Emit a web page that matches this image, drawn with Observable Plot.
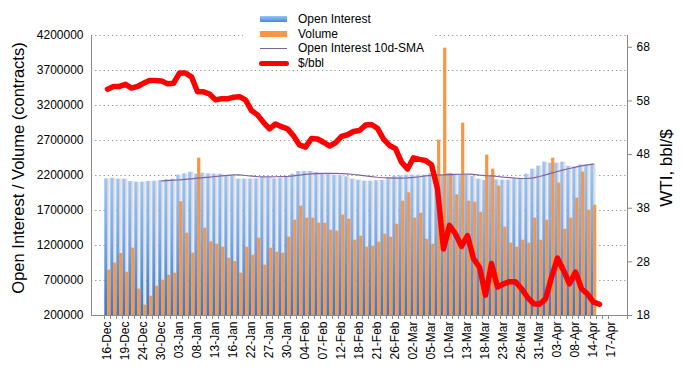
<!DOCTYPE html>
<html>
<head>
<meta charset="utf-8">
<script src="https://cdn.jsdelivr.net/npm/d3@7"></script>
<script src="https://cdn.jsdelivr.net/npm/@observablehq/plot@0.6"></script>
<style>
  html, body { margin: 0; padding: 0; background: #fff; }
  #wrap { position: relative; width: 683px; height: 367px; font-family: "Liberation Sans", Arial, sans-serif; }
  #legend { position: absolute; left: 243px; top: 4px; width: 192px; height: 62px; background: #fff; font-size: 12px; color: #000; }
  .li { position: absolute; left: 17px; height: 14px; width: 180px; }
  .li span { position: absolute; left: 38px; top: 0; line-height: 14px; white-space: nowrap; }
  .sw { position: absolute; left: 0; }
</style>
</head>
<body>
<div id="wrap">
  <div id="chart"></div>
  <div id="legend">
    <div class="li" style="top:8px"><div class="sw" style="top:4px;width:27px;height:6px;background:linear-gradient(#9cc4f6,#4589da);"></div><span>Open Interest</span></div>
    <div class="li" style="top:23px"><div class="sw" style="top:4px;width:27px;height:6px;background:#f79646;"></div><span>Volume</span></div>
    <div class="li" style="top:37px"><div class="sw" style="top:6.5px;width:27px;height:1.2px;background:#8064a2;"></div><span>Open Interest 10d-SMA</span></div>
    <div class="li" style="top:52px"><div class="sw" style="top:4.5px;left:-1px;width:30px;height:5px;border-radius:3px;background:#ff0000;"></div><span>$/bbl</span></div>
  </div>
</div>
<script>
const dates = ["16-Dec","17-Dec","18-Dec","19-Dec","20-Dec","23-Dec","24-Dec","26-Dec","27-Dec","30-Dec","31-Dec",
"02-Jan","03-Jan","06-Jan","07-Jan","08-Jan","09-Jan","10-Jan","13-Jan","14-Jan","15-Jan","16-Jan","17-Jan","21-Jan","22-Jan","23-Jan","24-Jan","27-Jan","28-Jan","29-Jan","30-Jan","31-Jan",
"03-Feb","04-Feb","05-Feb","06-Feb","07-Feb","10-Feb","11-Feb","12-Feb","13-Feb","14-Feb","18-Feb","19-Feb","20-Feb","21-Feb","24-Feb","25-Feb","26-Feb","27-Feb","28-Feb",
"02-Mar","03-Mar","04-Mar","05-Mar","06-Mar","09-Mar","10-Mar","11-Mar","12-Mar","13-Mar","16-Mar","17-Mar","18-Mar","19-Mar","20-Mar","23-Mar","24-Mar","25-Mar","26-Mar","27-Mar","30-Mar","31-Mar",
"01-Apr","02-Apr","03-Apr","06-Apr","07-Apr","08-Apr","09-Apr","13-Apr","14-Apr","15-Apr","16-Apr","17-Apr"];

const openInterest = [2152000,2162000,2148000,2148000,2114000,2105000,2105000,2114000,2119000,2129000,
2143000,2148000,2205000,2224000,2248000,2219000,2233000,2224000,2219000,2219000,
2195000,2195000,2148000,2148000,2148000,2152000,2167000,2162000,2152000,2157000,
2186000,2219000,2257000,2257000,2257000,2243000,2224000,2219000,2205000,2195000,
2181000,2148000,2133000,2120000,2120000,2125000,2129000,2162000,2186000,2195000,
2205000,2205000,2205000,2205000,2229000,2205000,2205000,2229000,2205000,2205000,
2205000,2186000,2148000,2129000,2186000,2138000,2133000,2133000,2152000,2152000,
2219000,2290000,2333000,2391000,2376000,2376000,2391000,2333000,2319000,2352000,
2348000,2362000];

const volume = [848000,948000,1086000,819000,1162000,576000,348000,476000,619000,705000,
776000,805000,1824000,1376000,1090000,2448000,1448000,1252000,1219000,1176000,
1019000,971000,805000,1176000,1062000,1305000,919000,1162000,1105000,1090000,
1319000,1562000,1762000,1591000,1591000,1519000,1519000,1419000,1405000,1633000,
1576000,1276000,1333000,1176000,1190000,1248000,1362000,1319000,1505000,1833000,
1952000,1591000,1662000,1290000,1219000,2705000,4019000,2229000,1924000,2948000,
1833000,1819000,1676000,2491000,2291000,2048000,1462000,1233000,1176000,1276000,
1233000,1591000,1276000,1562000,2448000,2091000,1433000,1591000,1876000,2248000,
1705000,1776000];

const smaStart = 9;
const sma = [2124000,2128000,2133000,2138000,2145000,2153000,2162000,2170000,2178000,2186000,
2194000,2202000,2210000,2208000,2200000,2192000,2185000,2180000,2180000,2182000,
2184000,2186000,2195000,2205000,2215000,2222000,2226000,2229000,2230000,2230000,
2228000,2222000,2214000,2205000,2195000,2185000,2175000,2168000,2165000,2163000,
2163000,2165000,2172000,2182000,2195000,2203000,2207000,2210000,2212000,2215000,
2218000,2219000,2215000,2205000,2198000,2195000,2186000,2176000,2171000,2162000,
2157000,2157000,2167000,2186000,2210000,2233000,2257000,2281000,2300000,2319000,
2338000,2352000,2362000];

const price = [60.2,60.7,60.7,61.1,60.4,60.7,61.3,61.8,61.8,61.7,
61.2,61.3,63.2,63.2,62.5,59.7,59.7,59.3,58.2,58.4,
58.4,58.7,58.8,58.2,56.2,55.4,54.0,52.8,53.7,53.2,
52.8,51.5,49.8,49.4,51.0,50.9,50.3,49.6,50.2,51.4,
51.7,52.3,52.5,53.5,53.6,52.9,50.9,49.7,49.1,46.6,
45.3,47.4,47.1,46.9,46.1,41.6,30.4,34.8,33.2,30.9,
32.9,28.6,27.0,21.8,27.7,23.3,23.9,24.3,24.3,23.0,
21.4,20.2,20.1,21.1,25.1,28.7,26.4,23.9,26.1,23.0,
22.0,20.5,20.1];

const leftTicks = [200000,700000,1200000,1700000,2200000,2700000,3200000,3700000,4200000];
const rightTicks = [18,28,38,48,58,68];
const labelTicks = dates.filter((d, i) => i % 3 === 0);
const leftTitle = "Open Interest / Volume (contracts)";
const rightTitle = "WTI, bbl/$";

const yMin = 200000, yMax = 4200000, pMin = 18, pMax = 70.2;
const toLeft = p => yMin + (p - pMin) / (pMax - pMin) * (yMax - yMin);

const rows = dates.map((d, i) => ({
  date: d,
  oi: openInterest[i] ?? null,
  vol: volume[i] ?? null,
  price: price[i] ?? null,
  sma: i >= smaStart && sma[i - smaStart] != null ? sma[i - smaStart] : null
}));
const barRows = rows.filter(r => r.oi != null);

const frameLines = (index, scales, values, dims) => {
  const {width: w, height: h, marginLeft: l, marginRight: r, marginTop: t, marginBottom: b} = dims;
  const g = d3.create("svg:g");
  const lines = g.append("g").attr("stroke", "#8a8a8a").attr("stroke-width", 1).attr("shape-rendering", "crispEdges");
  lines.append("line").attr("x1", l).attr("x2", l).attr("y1", t).attr("y2", h - b);
  lines.append("line").attr("x1", w - r).attr("x2", w - r).attr("y1", t).attr("y2", h - b);
  lines.append("line").attr("x1", l).attr("x2", w - r).attr("y1", h - b).attr("y2", h - b);
  const xs = dates.map(d => scales.x(d)).concat([w - r]);
  for (const x of xs) lines.append("line").attr("x1", x).attr("x2", x).attr("y1", h - b).attr("y2", h - b + 4);
  const cy = (t + h - b) / 2 - 7;
  g.append("text").attr("transform", `translate(18,${cy}) rotate(-90)`).attr("text-anchor", "middle")
    .attr("dy", "0.35em").attr("font-size", 16.5).attr("fill", "#000").text(leftTitle);
  g.append("text").attr("transform", `translate(${w - 17},${cy}) rotate(-90)`).attr("text-anchor", "middle")
    .attr("dy", "0.35em").attr("font-size", 17).attr("fill", "#000").text(rightTitle);
  return g.node();
};

const chart = Plot.plot({
  width: 683,
  height: 367,
  marginLeft: 91,
  marginRight: 56,
  marginTop: 35,
  marginBottom: 52,
  style: {fontFamily: "Liberation Sans, Arial, sans-serif", fontSize: "12px", color: "#000", background: "transparent", overflow: "visible"},
  x: {type: "band", domain: dates, padding: 0, label: null},
  y: {domain: [yMin, yMax], label: null},
  marks: [
    Plot.ruleY(leftTicks.slice(1), {stroke: "#8c8c8c", strokeDasharray: "1.2,3", strokeWidth: 1}),
    Plot.barY(barRows, {x: "date", y1: yMin, y2: "oi", fill: "url(#shadowGrad)", insetLeft: 2.9, insetRight: 0}),
    Plot.barY(barRows, {x: "date", y1: yMin, y2: "oi", fill: "url(#blueGrad)", insetLeft: 0.3, insetRight: 2.9}),
    Plot.barY(barRows, {x: "date", y1: yMin, y2: "vol", fill: "#f79646", insetLeft: 3.1, insetRight: -0.3}),
    Plot.lineY(rows.filter(r => r.sma != null), {x: "date", y: "sma", stroke: "#8064a2", strokeWidth: 1.2}),
    Plot.lineY(rows.filter(r => r.price != null), {x: "date", y: r => toLeft(r.price), stroke: "#ff0000", strokeWidth: 5.5, strokeLinejoin: "round", strokeLinecap: "round"}),
    frameLines,
    Plot.axisY(leftTicks, {anchor: "left", tickSize: 0, tickPadding: 8, tickFormat: d => String(d), fontSize: 12, label: null}),
    Plot.axisY(rightTicks.map(toLeft), {anchor: "right", tickSize: 4, tickPadding: 5, stroke: "#8a8a8a", tickFormat: (d, i) => String(rightTicks[i]), fontSize: 12, label: null}),
    Plot.axisX(labelTicks, {anchor: "bottom", tickSize: 0, tickPadding: 6, tickRotate: -90, fontSize: 12, label: null})
  ]
});

const defs = document.createElementNS("http://www.w3.org/2000/svg", "defs");
defs.innerHTML = `
<linearGradient id="blueGrad" x1="0" y1="0" x2="0" y2="1">
  <stop offset="0" stop-color="#9cc4f6"/>
  <stop offset="0.4" stop-color="#78acee"/>
  <stop offset="1" stop-color="#3578cc"/>
</linearGradient>
<linearGradient id="shadowGrad" x1="0" y1="0" x2="1" y2="0">
  <stop offset="0" stop-color="#d0d0d0"/>
  <stop offset="1" stop-color="#f2f2f2"/>
</linearGradient>`;
chart.insertBefore(defs, chart.firstChild);
document.getElementById("chart").appendChild(chart);
</script>
</body>
</html>
